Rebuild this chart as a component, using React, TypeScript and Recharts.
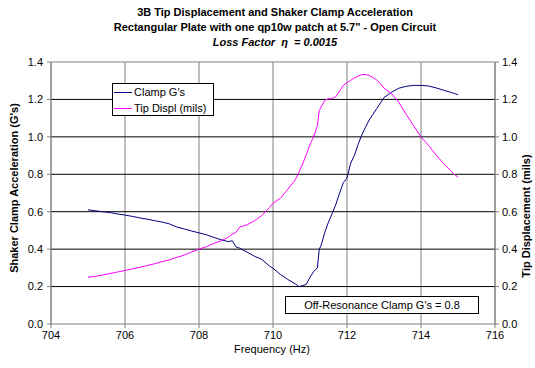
import { LineChart, Line, XAxis, YAxis, CartesianGrid, ReferenceLine } from 'recharts';

// Frequency sweep around the first plate mode
const freqs = [
  705.0, 705.2, 705.4, 705.6, 705.8, 706.0, 706.2, 706.4, 706.6, 706.8,
  707.0, 707.2, 707.4, 707.6, 707.8, 708.0, 708.2, 708.4, 708.6, 708.8,
  708.9, 709.0, 709.1, 709.3, 709.5, 709.7, 709.9, 710.0, 710.2, 710.4,
  710.6, 710.7, 710.8, 710.9, 711.0, 711.1, 711.2, 711.25, 711.3, 711.4,
  711.5, 711.6, 711.7, 711.8, 711.9, 712.0, 712.1, 712.2, 712.3, 712.4,
  712.5, 712.6, 712.7, 712.8, 712.9, 713.0, 713.2, 713.4, 713.6, 713.8,
  714.0, 714.2, 714.4, 714.6, 714.8, 714.9, 715.0,
];

// Clamp acceleration (G's), left axis
const clampG = [
  0.61, 0.605, 0.6, 0.595, 0.588, 0.582, 0.575, 0.567, 0.56, 0.552,
  0.545, 0.535, 0.518, 0.508, 0.497, 0.487, 0.477, 0.463, 0.45, 0.44,
  0.445, 0.412, 0.405, 0.384, 0.362, 0.345, 0.31, 0.298, 0.265, 0.238,
  0.215, 0.2, 0.205, 0.212, 0.25, 0.28, 0.3, 0.4, 0.42, 0.49,
  0.545, 0.59, 0.64, 0.7, 0.755, 0.78, 0.86, 0.9, 0.96, 1.01,
  1.052, 1.09, 1.12, 1.15, 1.18, 1.21, 1.238, 1.26, 1.27, 1.275,
  1.275, 1.272, 1.262, 1.25, 1.238, 1.232, 1.225,
];

// Tip displacement (mils), right axis
const tipDispl = [
  0.25, 0.255, 0.262, 0.27, 0.278, 0.286, 0.295, 0.303, 0.312, 0.322,
  0.333, 0.343, 0.356, 0.368, 0.385, 0.4, 0.413, 0.43, 0.445, 0.465,
  0.48, 0.49, 0.518, 0.53, 0.552, 0.58, 0.622, 0.645, 0.672, 0.72,
  0.77, 0.81, 0.855, 0.905, 0.96, 1.0, 1.06, 1.14, 1.16, 1.195,
  1.204, 1.204, 1.215, 1.245, 1.275, 1.29, 1.302, 1.315, 1.325, 1.332,
  1.333, 1.328, 1.317, 1.305, 1.285, 1.26, 1.232, 1.185, 1.12, 1.06,
  1.0, 0.955, 0.905, 0.86, 0.82, 0.8, 0.785,
];

const xTicks = [704, 706, 708, 710, 712, 714, 716];
const yTicks = [0, 0.2, 0.4, 0.6, 0.8, 1.0, 1.2, 1.4];
const majorY = [0.2, 0.4, 0.6, 0.8, 1.0, 1.2];

const NAVY = '#000080';
const MAGENTA = '#ff00ff';
const GRAY = '#808080';
const FONT = '"Liberation Sans", Arial, sans-serif';

const data = freqs.map((f, i) => ({ f, clamp: clampG[i], tip: tipDispl[i] }));

function LegendBox() {
  const row = (color: string, label: string) => (
    <div style={{ display: 'flex', alignItems: 'center', height: 16 }}>
      <div style={{ width: 18, height: 0, borderTop: `1px solid ${color}`, marginRight: 2 }} />
      <span>{label}</span>
    </div>
  );
  return (
    <div style={{
      position: 'absolute', left: 112, top: 83,
      border: '1px solid #000', background: '#fff', fontSize: 11,
      color: '#000', padding: '0 4px 0 1px', width: 95, height: 31, lineHeight: '16px',
    }}>
      {row(NAVY, "Clamp G's")}
      {row(MAGENTA, 'Tip Displ (mils)')}
    </div>
  );
}

const tick = { fill: '#000', fontSize: 11, fontFamily: FONT };

export default function App() {
  return (
    <div style={{ position: 'absolute', left: 0, top: 0, width: 535, height: 368, background: '#fff', fontFamily: FONT }}>
      <div style={{ position: 'absolute', left: 0, top: 5, width: 550, textAlign: 'center', fontSize: 11, fontWeight: 700, lineHeight: '15px', color: '#000' }}>
        <div>3B Tip Displacement and Shaker Clamp Acceleration</div>
        <div>Rectangular Plate with one qp10w patch at 5.7" - Open Circuit</div>
        <div style={{ fontStyle: 'italic' }}>Loss Factor &nbsp;η &nbsp;= 0.0015</div>
      </div>
      <LineChart width={535} height={368} data={data} margin={{ top: 62, right: 0, bottom: 0, left: 0 }}>
        <CartesianGrid stroke={GRAY} horizontal={false} />
        {majorY.map((y) => (
          <ReferenceLine key={y} yAxisId="left" y={y} stroke="#000" />
        ))}
        <ReferenceLine yAxisId="left" y={1.4} stroke={GRAY} />
        <XAxis
          dataKey="f" type="number" domain={[704, 716]} ticks={xTicks} height={44}
          stroke={GRAY} tickSize={4} tickMargin={3} tick={tick}
        />
        <YAxis
          yAxisId="left" domain={[0, 1.4]} ticks={yTicks} width={51}
          stroke={GRAY} tickSize={4} tickMargin={4} tick={tick}
          tickFormatter={(v: number) => v.toFixed(1)}
        />
        <YAxis
          yAxisId="right" orientation="right" domain={[0, 1.4]} ticks={yTicks} width={40}
          stroke={GRAY} tickSize={4} tickMargin={3} tick={tick}
          tickFormatter={(v: number) => v.toFixed(1)}
        />
        <Line
          yAxisId="left" dataKey="clamp" name="Clamp G's" type="linear"
          stroke={NAVY} strokeWidth={1} dot={false} isAnimationActive={false}
        />
        <Line
          yAxisId="right" dataKey="tip" name="Tip Displ (mils)" type="linear"
          stroke={MAGENTA} strokeWidth={1} dot={false} isAnimationActive={false}
        />
      </LineChart>
      <LegendBox />
      <div style={{
        position: 'absolute', left: 285, top: 296, width: 192, height: 16, border: '1px solid #000',
        background: '#fff', fontSize: 11, textAlign: 'center', lineHeight: '16px', color: '#000',
      }}>
        Off-Resonance Clamp G's = 0.8
      </div>
      <div style={{ position: 'absolute', left: 14, top: 188, transform: 'translate(-50%, -50%) rotate(-90deg)', whiteSpace: 'nowrap', fontSize: 11, fontWeight: 700 }}>
        Shaker Clamp Acceleration (G's)
      </div>
      <div style={{ position: 'absolute', left: 526, top: 216, transform: 'translate(-50%, -50%) rotate(-90deg)', whiteSpace: 'nowrap', fontSize: 11, fontWeight: 700 }}>
        Tip Displacement (mils)
      </div>
      <div style={{ position: 'absolute', left: 272, top: 343, transform: 'translateX(-50%)', whiteSpace: 'nowrap', fontSize: 11 }}>
        Frequency (Hz)
      </div>
    </div>
  );
}
